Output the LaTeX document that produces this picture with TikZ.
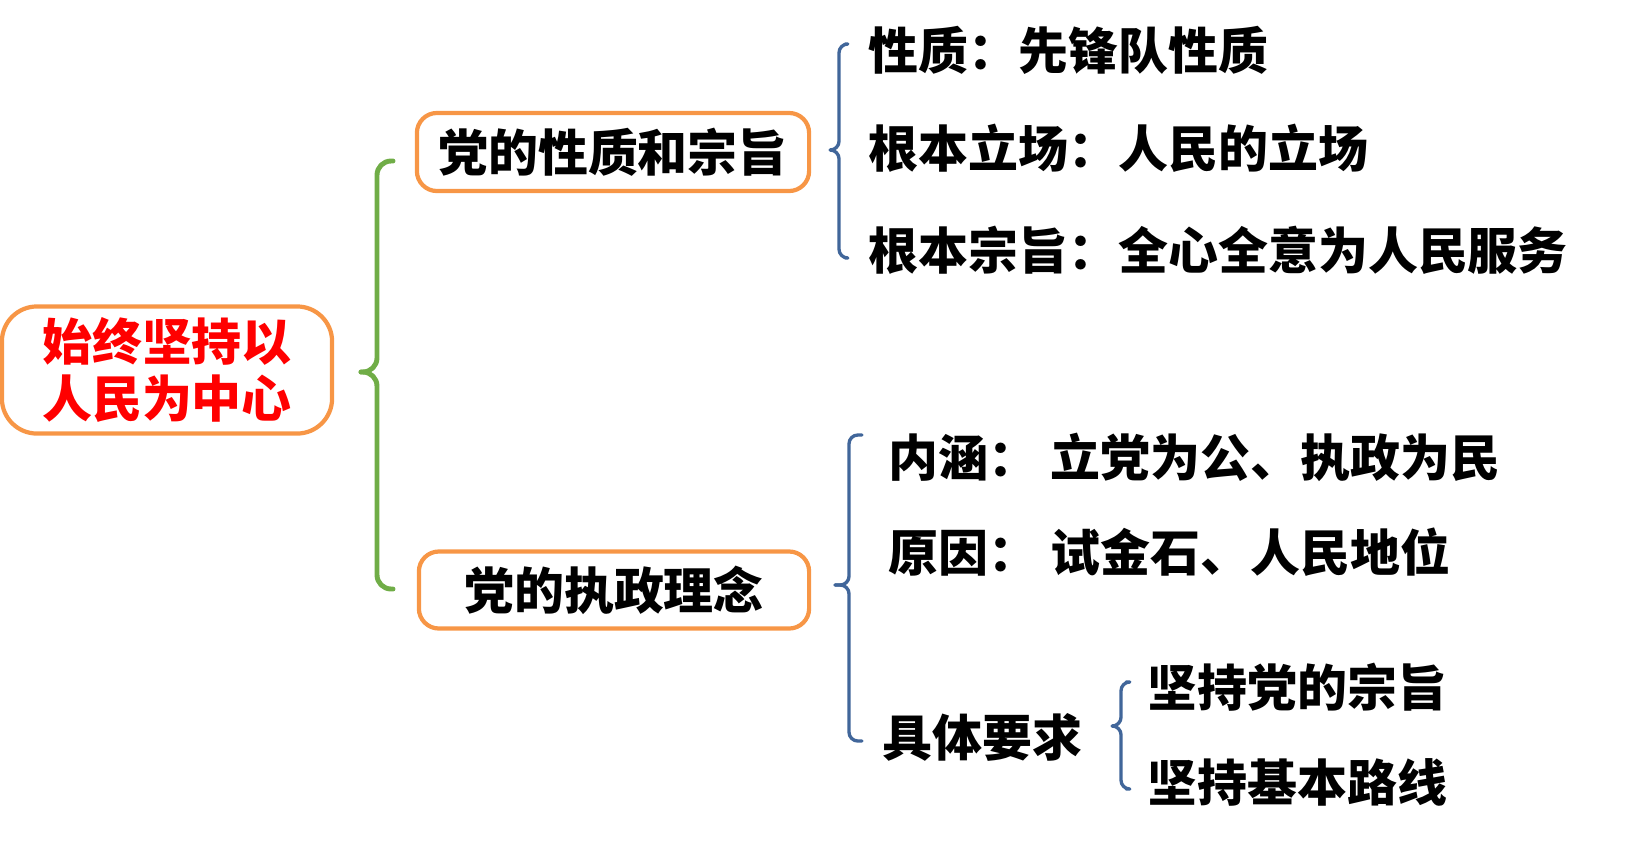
\documentclass[tikz,border=0pt]{standalone}
\usepackage{fontspec}
\setmainfont{Noto Sans CJK SC}
\definecolor{chengse}{HTML}{F79646}
\definecolor{lvse}{HTML}{70AD47}
\definecolor{lanse}{HTML}{41669A}
\begin{document}
\begin{tikzpicture}[line join=round,line cap=round,x=0.01cm,y=-0.01cm,
	font=\bfseries\fontsize{14.2}{17}\selectfont,
	kuang/.style={draw=chengse,line width=1.2pt,rounded corners=2mm,inner sep=0pt,align=center},
	wenzi/.style={anchor=west,inner sep=0pt},
	kuohao/.style={draw=lanse,line width=0.95pt,rounded corners=2.5pt}]
		\useasboundingbox (0,0) rectangle (1640,842);
		% boxes
		\node[kuang,rounded corners=3.5mm,minimum width=3.3cm,minimum height=1.27cm,text=red] (zhongxin) at (167,370){始终坚持以\\[-1pt]人民为中心};
		\node[kuang,minimum width=3.92cm,minimum height=0.78cm] (xingzhi) at (613,152){党的性质和宗旨};
		\node[kuang,minimum width=3.9cm,minimum height=0.77cm] (linian) at (614,590){党的执政理念};
		% right side texts
		\node[wenzi] (xz1) at (868,50){性质：先锋队性质};
		\node[wenzi] (xz2) at (868,148){根本立场：人民的立场};
		\node[wenzi] (xz3) at (868,250){根本宗旨：全心全意为人民服务};
		\node[wenzi] (ln1) at (888,457){内涵：\hspace{0.12cm}立党为公、执政为民};
		\node[wenzi] (ln2) at (888,552){原因：\hspace{0.12cm}试金石、人民地位};
		\node[wenzi] (ln3) at (882,737){具体要求};
		\node[wenzi] (yq1) at (1147,687){坚持党的宗旨};
		\node[wenzi] (yq2) at (1147,782){坚持基本路线};
		% braces
		\coordinate (gtip) at (361,372);
		\draw[kuohao,draw=lvse,line width=1.4pt,rounded corners=4pt] (393,161) -| (377,372) -- (gtip);
		\draw[kuohao,draw=lvse,line width=1.4pt,rounded corners=4pt] (393,589) -| (377,372) -- (gtip);
		\coordinate (btip) at (833,150);
		\draw[kuohao] (845,44) -| (839,150) -- (btip);
		\draw[kuohao] (845,258) -| (839,150) -- (btip);
		\coordinate (ctip) at (835,585);
		\draw[kuohao] (862,435) -| (849,585) -- (ctip);
		\draw[kuohao] (862,741) -| (849,585) -- (ctip);
		\coordinate (dtip) at (1113,726);
		\draw[kuohao] (1126,682) -| (1121,726) -- (dtip);
		\draw[kuohao] (1126,789) -| (1121,726) -- (dtip);
\end{tikzpicture}
\end{document}
